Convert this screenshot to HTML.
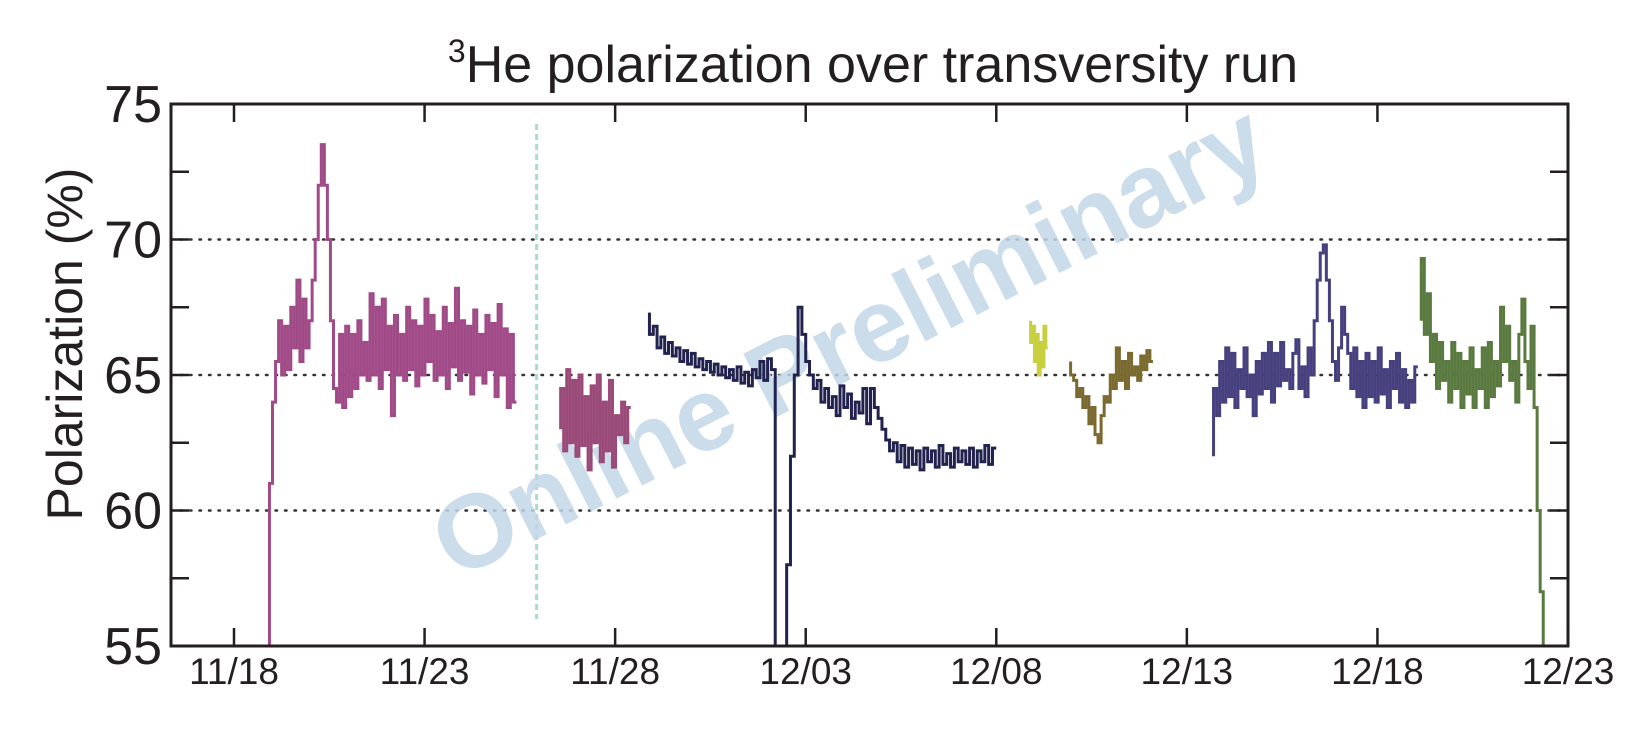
<!DOCTYPE html>
<html><head><meta charset="utf-8"><style>
body{margin:0;background:#fff;}
svg{display:block;font-family:"Liberation Sans",sans-serif;}
</style></head><body>
<svg id="chart" width="1650" height="735" viewBox="0 0 1650 735">
<text x="873" y="82" text-anchor="middle" font-size="52" fill="#231f20"><tspan font-size="32" dy="-20">3</tspan><tspan dy="20">He polarization over transversity run</tspan></text>
<text transform="translate(82,344) rotate(-90)" text-anchor="middle" font-size="50" fill="#231f20">Polarization (%)</text>
<g id="grid"></g>
<text transform="translate(865,372) rotate(-27)" text-anchor="middle" font-size="104" font-weight="bold" fill="#c3d6e8" opacity="0.85">Online Preliminary</text>
<g id="series"></g>
<g id="axes"></g>
</svg>
<script>
const yTicks=[55,60,65,70,75];
const yGrid=[60,65,70,75];
const xTickDays=[0,5,10,15,20,25,30,35];
const xTickLabels=["11/18","11/23","11/28","12/03","12/08","12/13","12/18","12/23"];
const dividerDay=7.94;
const seg1Start=0.93, seg1Step=0.08;
const seg1=[55,61,64,65.5,67,65,66.8,65.2,67.5,66,68.5,65.5,67.8,66,67,68.5,70,72,73.5,72,70,67,64.5,64,66.5,63.8,66.8,64.2,66.5,64.5,67,65,66.2,64.8,68,65,67.5,64.5,67.8,65.2,66.8,63.5,67.2,65,66.5,64.8,67.5,65.2,67,64.6,66.8,65,67.8,65.5,67.2,64.8,66.6,65,67.5,64.5,66.9,65.3,68.2,64.8,67,65.1,66.8,64.3,67.4,65,66.5,64.7,67.2,65.2,66.9,64.2,67.6,65,66.7,63.8,66.5,64];
const seg2Start=8.57, seg2Step=0.08;
const seg2=[63,64.5,62.2,65.2,62.5,64.8,62,65,62.4,64.2,61.5,64.6,62.5,65,61.8,64,62.2,64.8,61.6,63.5,62.8,64,62.5,63.8];
const seg3Start=10.9, seg3Step=0.1;
const seg3=[67.3,66.5,66.8,66,66.4,65.8,66.2,65.7,66,65.5,65.9,65.4,65.8,65.3,65.6,65.2,65.5,65.1,65.4,65,65.3,64.9,65.2,64.8,65.3,64.7,65.1,64.6,65.2,64.9,65.5,64.8,65.6,65.2,55,55,55,58,62,65,67.5,66.5,65.5,65,64.5,64.8,64,64.5,63.8,64.2,63.5,64.6,63.8,64.3,63.4,64,63.6,64.5,63.2,64.5,63.8,63.4,63,62.6,62.2,62.5,61.8,62.4,61.6,62.3,61.7,62.2,61.5,62.3,61.8,62.2,61.6,62.4,61.7,62.1,61.6,62.3,61.8,62.2,61.7,62.3,61.6,62.2,61.8,62.4,61.7,62.3];
const seg4Start=20.9, seg4Step=0.05;
const seg4=[67,66.2,66.8,65.5,66.5,65,66.2,65.3,66.8,66];
const seg5Start=21.95, seg5Step=0.08;
const seg5=[65.5,65,64.8,64.2,64.5,63.8,64.2,63.2,63.8,62.8,62.5,63.5,64.2,64,65,64.5,66,64.8,65.5,64.5,65.8,65,65.3,64.8,65.7,65.2,65.9,65.5];
const seg6Start=25.7, seg6Step=0.08;
const seg6=[62,64.5,63.5,65.5,64,66,64.2,65.8,63.8,65.2,64.5,66,64.2,65,63.5,65.5,64.3,65.8,64.5,66.2,64,65.8,64.6,66.2,64.8,65.2,64.5,65.8,66.3,64.5,65.3,64.2,66,65,67,68.5,69.5,69.8,68.5,67,65.5,64.8,66,67.5,66.5,65.8,64.5,66,64.2,65.5,63.8,65.8,64.2,65.5,64,66,64.3,65.2,63.8,65.5,64.5,65.8,64,65.2,63.8,64.8,64,65.3];
const seg7Start=31.15, seg7Step=0.08;
const seg7=[67,69.3,66.5,68,65.5,66.5,64.5,66.2,64.8,65.5,64,66.2,64.5,65.8,63.8,65.5,64.3,66,63.8,65.2,64.5,66,63.8,66.2,64.2,65.5,64.6,67.5,65.5,66.8,64.8,65.5,64,66.5,67.8,65.5,64.5,66.8,63.8,60,57,55];

const L=171,R=1568,T=104,B=646,x0=234,pxDay=(1568-234)/35;
const X=d=>x0+d*pxDay, Y=v=>B-(v-55)/20*(B-T);
const NS="http://www.w3.org/2000/svg";
function mk(t,a,p){const e=document.createElementNS(NS,t);for(const k in a)e.setAttribute(k,a[k]);p.appendChild(e);return e;}
const grid=document.getElementById('grid'),axes=document.getElementById('axes'),ser=document.getElementById('series');
yGrid.forEach(v=>{
  const l=mk('line',{x1:L,x2:R,y1:Y(v),y2:Y(v),stroke:'#333','stroke-width':2.5,'stroke-dasharray':'1.5 8','stroke-linecap':'round'},grid);
  
  
});
const dv=mk('line',{x1:X(dividerDay),x2:X(dividerDay),y1:124,y2:619,stroke:'#a8dccf','stroke-width':3,'stroke-dasharray':'6 4'},grid);


const segs=[[seg1Start,seg1Step,seg1,'#a04a88'],[seg2Start,seg2Step,seg2,'#9a4a78'],[seg3Start,seg3Step,seg3,'#22224e'],[seg4Start,seg4Step,seg4,'#c8d040'],[seg5Start,seg5Step,seg5,'#7a6a30'],[seg6Start,seg6Step,seg6,'#46407e'],[seg7Start,seg7Step,seg7,'#5a7a40']];
segs.forEach((s,i)=>{
  let d='';
  s[2].forEach((v,j)=>{const x=X(s[0]+j*s[1]),y=Y(v);
    if(j===0)d+='M'+x+' '+y;else d+=' V'+y+' H'+x;});
  const p=mk('path',{d:d,fill:'none',stroke:s[3],'stroke-width':3,'stroke-linejoin':'miter'},ser);
  
  
});
const fr=mk('rect',{x:L,y:T,width:R-L,height:B-T,fill:'none',stroke:'#231f20','stroke-width':3},axes);


for(let v=55;v<=75;v+=2.5){
  mk('line',{x1:L,x2:L+18,y1:Y(v),y2:Y(v),stroke:'#231f20','stroke-width':2.5},axes);
  mk('line',{x1:R,x2:R-18,y1:Y(v),y2:Y(v),stroke:'#231f20','stroke-width':2.5},axes);
}
yTicks.forEach(v=>{
  const t=mk('text',{x:162,y:Y(v)+18,'text-anchor':'end','font-size':52,fill:'#231f20'},axes);
  t.textContent=v;
  
  
});
xTickDays.forEach((d,i)=>{
  mk('line',{x1:X(d),x2:X(d),y1:B,y2:B-18,stroke:'#231f20','stroke-width':2.5},axes);
  mk('line',{x1:X(d),x2:X(d),y1:T,y2:T+18,stroke:'#231f20','stroke-width':2.5},axes);
  const t=mk('text',{x:X(d),y:684,'text-anchor':'middle','font-size':37,fill:'#231f20'},axes);
  t.textContent=xTickLabels[i];
  
  
});
</script>
</body></html>
